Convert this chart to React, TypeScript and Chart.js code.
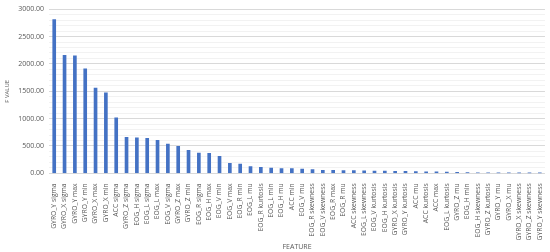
import React, { useEffect, useRef } from "react";
import { Chart, registerables } from "chart.js";

Chart.register(...registerables);

const features: string[] = [
  "GYRO_Y sigma", "GYRO_X sigma", "GYRO_Y max", "GYRO_Y min", "GYRO_X max", "GYRO_X min",
  "ACC sigma", "GYRO_Z sigma", "EOG_H sigma", "EOG_L sigma", "EOG_L max", "EOG_V sigma",
  "GYRO_Z max", "GYRO_Z min", "EOG_R sigma", "EOG_H max", "EOG_V min", "EOG_V max",
  "EOG_R min", "EOG_L mu", "EOG_R kurtosis", "EOG_L min", "EOG_H mu", "ACC min",
  "EOG_V mu", "EOG_R skewness", "EOG_V skewness", "EOG_R max", "EOG_R mu", "ACC skewness",
  "EOG_L skewness", "EOG_V kurtosis", "EOG_H kurtosis", "GYRO_X kurtosis", "GYRO_Y kurtosis", "ACC mu",
  "ACC kurtosis", "ACC max", "EOG_L kurtosis", "GYRO_Z mu", "EOG_H min", "EOG_H skewness",
  "GYRO_Z kurtosis", "GYRO_Y mu", "GYRO_X mu", "GYRO_X skewness", "GYRO_Z skewness", "GYRO_Y skewness",
];

const fValues: number[] = [
  2810, 2155, 2150, 1910, 1557, 1470,
  1013, 659, 647, 641, 604, 537,
  494, 421, 372, 366, 311, 183,
  170, 122, 110, 97, 86, 86,
  80, 67, 55, 55, 52, 50,
  45, 42, 40, 38, 36, 34,
  30, 28, 25, 18, 14, 10,
  8, 3, 2, 1, 1, 1,
];

const yTickMin = 0;
const yTickMax = 3000;
const yMajorStep = 500;
const yMinorStep = 100;

export default function App() {
  const ref = useRef<HTMLCanvasElement | null>(null);
  useEffect(() => {
    if (!ref.current) return;
    const font = "'Open Sans', 'Liberation Sans', sans-serif";
    const chart = new Chart(ref.current, {
      type: "bar",
      data: {
        labels: features,
        datasets: [
          {
            data: fValues,
            backgroundColor: "#4472C4",
            barThickness: 3,
          },
        ],
      },
      options: {
        animation: false,
        responsive: false,
        maintainAspectRatio: false,
        layout: { padding: { left: 4, right: 4, top: 0, bottom: 1 } },
        plugins: { legend: { display: false }, tooltip: { enabled: false } },
        scales: {
          x: {
            grid: { display: false },
            border: { display: false },
            ticks: {
              autoSkip: false,
              minRotation: 90,
              maxRotation: 90,
              color: "#595959",
              font: { family: font, size: 6.8 },
              padding: 2,
            },
            title: {
              display: true,
              text: "FEATURE",
              color: "#595959",
              font: { family: font, size: 7 },
              padding: { top: 0, bottom: 0 },
            },
          },
          y: {
            min: yTickMin,
            max: yTickMax,
            border: { display: false },
            grid: {
              color: (ctx: any) =>
                ctx.tick && ctx.tick.value % yMajorStep === 0 ? "#d9d9d9" : "#f2f2f2",
              drawTicks: false,
            },
            ticks: {
              stepSize: yMinorStep,
              autoSkip: false,
              color: "#595959",
              font: { family: font, size: 7 },
              padding: 5,
              callback: (v: any) => (Number(v) % yMajorStep === 0 ? Number(v).toFixed(2) : ""),
            },
            title: {
              display: true,
              text: "F VALUE",
              color: "#595959",
              font: { family: font, size: 6 },
              padding: { top: 0, bottom: 2 },
            },
          },
        },
      },
    });
    return () => chart.destroy();
  }, []);
  return (
    <div style={{ position: "fixed", left: 0, top: 0, width: 550, height: 252, background: "#fff" }}>
      <canvas ref={ref} width={550} height={252} style={{ width: 550, height: 252 }} />
    </div>
  );
}
